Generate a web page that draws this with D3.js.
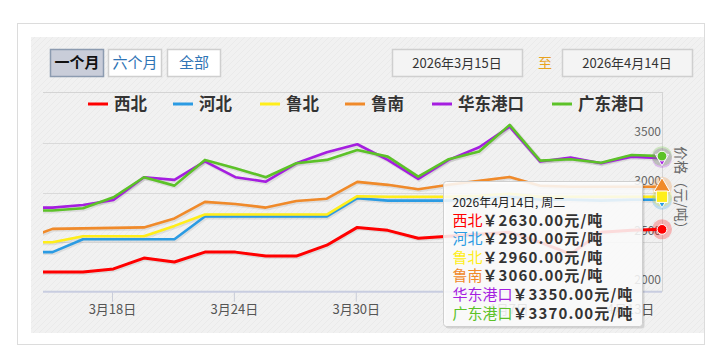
<!DOCTYPE html>
<html><head><meta charset="utf-8">
<script src="https://cdn.jsdelivr.net/npm/d3@7/dist/d3.min.js"></script>
<style>
html,body{margin:0;padding:0;background:#fff;}
svg text{font-family:"Noto Sans CJK SC","Noto Sans",sans-serif;}
</style></head>
<body><svg id="c" width="721" height="355"></svg>
<script>
const dates = ["3月13日","3月16日","3月17日","3月18日","3月19日","3月20日","3月23日","3月24日","3月25日","3月26日","3月27日","3月30日","3月31日","4月1日","4月2日","4月3日","4月7日","4月8日","4月9日","4月10日","4月13日","4月14日"];
const seriesNames = ["西北","河北","鲁北","鲁南","华东港口","广东港口"];
const seriesColors = ["#ff0000","#2b9be3","#ffee1a","#f08a2a","#a51ee0","#5cc228"];
const xiBei    = [2200,2200,2200,2230,2340,2300,2400,2400,2360,2360,2470,2650,2620,2540,2560,2580,2600,2500,2380,2600,2620,2630];
const heBei    = [2400,2400,2530,2530,2530,2530,2760,2760,2760,2760,2760,2945,2920,2920,2920,2940,2960,2930,2930,2920,2930,2930];
const luBei    = [2500,2500,2560,2560,2560,2665,2780,2780,2780,2780,2780,2965,2960,2960,2960,2970,2990,2960,2960,2960,2960,2960];
const luNan    = [2520,2635,2640,2645,2650,2740,2908,2887,2850,2917,2940,3110,3080,3035,3080,3120,3160,3070,3060,3060,3060,3060];
const huaDong  = [2850,2850,2877,2927,3157,3130,3318,3157,3112,3298,3409,3490,3332,3140,3332,3460,3668,3315,3355,3298,3365,3350];
const guangDong= [2820,2820,2843,2954,3157,3072,3332,3248,3157,3298,3332,3433,3365,3163,3339,3416,3686,3325,3339,3304,3382,3370];
const seriesData = [xiBei,heBei,luBei,luNan,huaDong,guangDong];
const yTicks = [2000,2500,3000,3500];
const xTickDates = ["3月18日","3月24日","3月30日","4月7日","4月13日"];
const rangeButtons = ["一个月","六个月","全部"];
const fromDate = "2026年3月15日", toDate = "2026年4月14日";
const tooltipTitle = "2026年4月14日, 周二";

const svg = d3.select("#c");
// frame
svg.append("rect").attr("x",17.5).attr("y",23.5).attr("width",687).attr("height",321).attr("fill","#fff").attr("stroke","#dcdcdc");
const defs = svg.append("defs");
const pat = defs.append("pattern").attr("id","tex").attr("width",6).attr("height",6).attr("patternUnits","userSpaceOnUse");
pat.append("rect").attr("width",6).attr("height",6).attr("fill","#f1f1f1");
pat.append("path").attr("d","M0,6 L6,0").attr("stroke","#e9e9e9").attr("stroke-width",0.8);
svg.append("rect").attr("x",31).attr("y",37).attr("width",673).attr("height",296).attr("fill","url(#tex)");

// buttons
const bx=[50,108,167];
rangeButtons.forEach((t,i)=>{
  const sel=i===0;
  svg.append("rect").attr("x",bx[i]+0.5).attr("y",49.5).attr("width",53).attr("height",27)
    .attr("fill",sel?"#c9cdd9":"#fff").attr("stroke",sel?"#8c9bb0":"#cfcfcf").attr("stroke-width",1.5);
  svg.append("text").attr("x",bx[i]+27).attr("y",68).attr("text-anchor","middle")
    .attr("font-size",15).attr("font-weight",sel?"bold":"normal").attr("fill",sel?"#111":"#2f74b5").text(t);
});
// date inputs
[[392,fromDate],[562,toDate]].forEach(([x,t])=>{
  svg.append("rect").attr("x",x+0.5).attr("y",49.5).attr("width",130).attr("height",27).attr("fill","#f4f4f4").attr("stroke","#cfcfcf").attr("stroke-width",1.5);
  svg.append("text").attr("x",x+65).attr("y",68).attr("text-anchor","middle").attr("font-size",13).attr("fill","#333").text(t);
});
svg.append("text").attr("x",545).attr("y",68).attr("text-anchor","middle").attr("font-size",14).attr("fill","#e8a21e").text("至");

// scales
const L=43,R=662,T=92,B=291.7;
const x = d3.scaleLinear().domain([-0.3125,20]).range([L,R]);
const y = d3.scaleLinear().domain([2000,4000]).range([B,93.8]);

// grid
svg.append("g").selectAll("line").data(yTicks.slice(1)).join("line")
  .attr("x1",L).attr("x2",R).attr("y1",d=>Math.round(y(d))+0.5).attr("y2",d=>Math.round(y(d))+0.5)
  .attr("stroke","#d9d9d9");
svg.append("line").attr("x1",L).attr("x2",R).attr("y1",T+0.5).attr("y2",T+0.5).attr("stroke","#d4d4d4");
svg.append("line").attr("x1",R+0.5).attr("x2",R+0.5).attr("y1",T).attr("y2",B).attr("stroke","#d4d4d4");

// y labels
const yAxis = d3.axisLeft(y).tickValues(yTicks).tickFormat(d3.format("d")).tickSize(0).tickPadding(0);
const yg = svg.append("g").attr("transform",`translate(${R-1},-8)`).call(yAxis);
yg.select(".domain").remove();
yg.selectAll("text").attr("font-size",12).attr("fill","#666").attr("font-family","Liberation Sans, Arial, sans-serif").attr("dy","0");

// x axis
const xIdx = xTickDates.map(d=>dates.indexOf(d)-1);
const xAxis = d3.axisBottom(x).tickValues(xIdx).tickFormat(i=>dates[i+1]).tickSize(10).tickPadding(3);
const xg = svg.append("g").attr("transform",`translate(-1.5,${B})`).call(xAxis);
xg.select(".domain").remove();
xg.selectAll("line").attr("stroke","#c8ccd8");
xg.selectAll("text").attr("font-size",13).attr("fill","#555");
svg.append("line").attr("x1",L).attr("x2",R).attr("y1",B).attr("y2",B).attr("stroke","#c8cde0").attr("stroke-width",2);

// y title
svg.append("text").attr("transform",`translate(676,191) rotate(90)`).attr("text-anchor","middle")
  .attr("font-size",14).attr("fill","#666").text("价格（元/吨）");

// legend
const legX=[88,173,260,345,432,552];
seriesNames.forEach((n,i)=>{
  svg.append("line").attr("x1",legX[i]).attr("x2",legX[i]+20).attr("y1",104).attr("y2",104).attr("stroke",seriesColors[i]).attr("stroke-width",3);
  svg.append("text").attr("x",legX[i]+26).attr("y",110).attr("font-size",16.5).attr("font-weight","bold").attr("fill","#333").text(n);
});

// lines
defs.append("clipPath").attr("id","clip").append("rect").attr("x",L).attr("y",T).attr("width",R-L+12).attr("height",B-T+12);
const line = d3.line().x((d,i)=>x(i-1)).y(d=>y(d));
const lg = svg.append("g").attr("clip-path","url(#clip)");
seriesData.forEach((s,i)=>{
  lg.append("path").attr("d",line(s)).attr("fill","none").attr("stroke","#000").attr("stroke-opacity",0.08)
    .attr("stroke-width",4).attr("transform","translate(1,1)").attr("stroke-linejoin","round");
});
seriesData.forEach((s,i)=>{
  lg.append("path").attr("d",line(s)).attr("fill","none").attr("stroke",seriesColors[i])
    .attr("stroke-width",i===0?3:2.6).attr("stroke-linejoin","round");
});

// hover markers
const last = dates.length-1;
const mg = svg.append("g");
seriesData.forEach((s,i)=>{
  mg.append("circle").attr("cx",x(last-1)).attr("cy",y(s[last])).attr("r",10).attr("fill",seriesColors[i]).attr("opacity",0.25);
});
const sym=[d3.symbolCircle,d3.symbolDiamond,d3.symbolSquare,d3.symbolTriangle,d3.symbolTriangle,d3.symbolCircle];
const order=[0,1,3,2,4,5];
order.forEach(i=>{
  const s=seriesData[i];
  mg.append("path").attr("d",d3.symbol(sym[i], i===2?130:i===3?110:75)())
    .attr("transform",`translate(${x(last-1)},${y(s[last])})${i===4?" rotate(180)":""}`)
    .attr("fill",seriesColors[i]).attr("stroke","#fff").attr("stroke-width",1);
});

// tooltip
const tg = svg.append("g").attr("transform","translate(443.5,181.5)");
tg.append("rect").attr("x",2).attr("y",2).attr("width",199).attr("height",145).attr("rx",3).attr("fill","#000").attr("opacity",0.12);
tg.append("rect").attr("width",199).attr("height",145).attr("rx",3).attr("fill","#fff").attr("fill-opacity",0.86).attr("stroke","#cfcfcf");
tg.append("text").attr("x",9).attr("y",25.5).attr("font-size",12).attr("fill","#222").text(tooltipTitle);
seriesNames.forEach((n,i)=>{
  const t=tg.append("text").attr("x",9).attr("y",44+i*18.6).attr("font-size",15);
  t.append("tspan").attr("fill",seriesColors[i]).text(n);
  t.append("tspan").attr("fill","#333").attr("font-weight","bold").attr("letter-spacing",1.1)
    .text("￥"+seriesData[i][last].toFixed(2)+"元/吨");
});
</script></body></html>
